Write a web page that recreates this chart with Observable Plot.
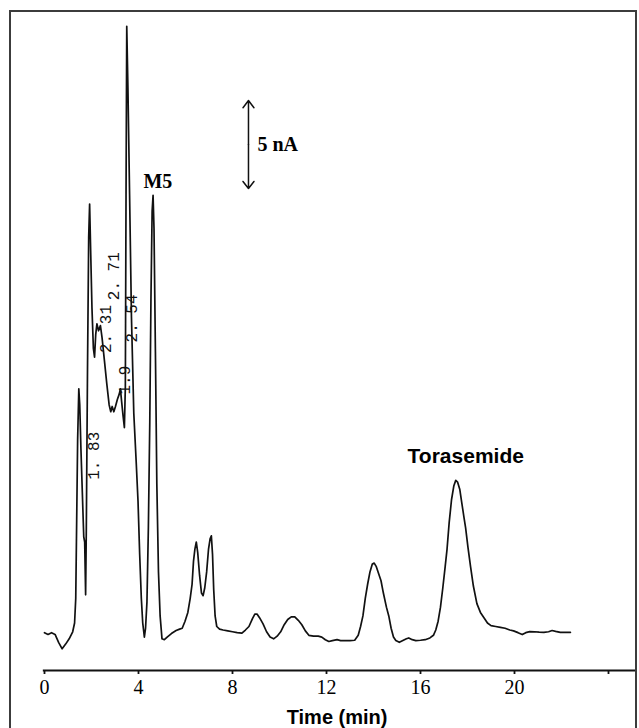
<!DOCTYPE html>
<html>
<head>
<meta charset="utf-8">
<script src="https://cdn.jsdelivr.net/npm/d3@7"></script>
<script src="https://cdn.jsdelivr.net/npm/@observablehq/plot@0.6"></script>
<style>
  html, body { margin: 0; padding: 0; background: #fff; }
  #wrap { position: relative; width: 639px; height: 728px; overflow: hidden; }
  #wrap svg { position: absolute; left: 0; top: 0; }
  #border { position: absolute; left: 9px; top: 10px; width: 624px; height: 730px;
            border: 2px solid #3c3c3c; border-bottom: none; pointer-events: none; }
</style>
</head>
<body>
<div id="wrap"><div id="border"></div></div>
<script>
// Chromatogram trace: time (min) and detector current (nA above baseline)
const time = [0.00,0.15,0.30,0.45,0.60,0.75,0.90,1.05,1.20,1.28,1.33,1.37,1.41,1.46,1.50,1.55,1.61,1.67,1.71,1.75,1.78,1.83,1.88,1.92,1.96,2.02,2.08,2.13,2.18,2.23,2.30,2.38,2.45,2.55,2.65,2.75,2.82,2.88,2.95,3.02,3.10,3.18,3.23,3.28,3.34,3.40,3.44,3.47,3.50,3.55,3.62,3.70,3.80,3.90,3.98,4.05,4.12,4.18,4.25,4.30,4.36,4.42,4.48,4.53,4.58,4.62,4.66,4.72,4.78,4.85,4.92,5.00,5.10,5.22,5.40,5.60,5.75,5.86,5.98,6.10,6.20,6.28,6.34,6.40,6.46,6.52,6.60,6.68,6.75,6.82,6.90,6.98,7.05,7.10,7.15,7.20,7.26,7.33,7.45,7.60,7.80,8.00,8.20,8.40,8.55,8.70,8.85,8.95,9.05,9.15,9.30,9.45,9.60,9.75,9.90,10.05,10.20,10.35,10.50,10.65,10.80,10.95,11.10,11.25,11.45,11.65,11.80,11.95,12.10,12.25,12.45,12.60,12.80,13.00,13.20,13.35,13.45,13.55,13.65,13.75,13.85,13.95,14.03,14.12,14.22,14.32,14.42,14.55,14.65,14.75,14.85,14.95,15.10,15.25,15.40,15.50,15.65,15.80,16.00,16.20,16.40,16.55,16.65,16.75,16.85,16.95,17.05,17.13,17.22,17.32,17.42,17.50,17.58,17.67,17.76,17.85,17.92,18.02,18.13,18.25,18.40,18.55,18.70,18.85,19.00,19.20,19.40,19.60,19.80,19.96,20.15,20.33,20.48,20.65,20.85,21.05,21.25,21.45,21.60,21.75,21.95,22.15,22.38];
const current = [0.05,-0.05,0.05,-0.05,-0.5,-0.87,-0.6,-0.3,0.1,0.6,2.0,6.5,11.0,13.9,13.0,10.5,8.0,5.5,5.2,2.2,6.0,15.0,22.5,24.4,22.0,18.5,16.2,15.7,17.0,17.6,17.2,17.5,16.8,15.5,14.2,13.0,12.6,12.9,12.6,12.9,13.3,13.6,13.9,13.2,12.4,11.7,14.0,25.0,34.5,31.0,25.0,18.0,12.5,9.8,7.5,4.5,2.0,0.6,-0.2,0.3,1.8,6.0,12.0,19.0,24.0,24.9,23.0,16.0,8.5,3.5,1.0,-0.3,-0.35,-0.2,0.0,0.17,0.25,0.3,0.7,1.2,2.0,2.8,4.1,4.8,5.2,4.6,3.3,2.3,2.15,2.6,3.5,4.8,5.4,5.55,4.5,2.5,1.0,0.4,0.25,0.2,0.15,0.1,0.05,0.02,0.2,0.4,0.85,1.1,1.1,0.9,0.55,0.1,-0.2,-0.3,-0.15,0.1,0.5,0.8,0.95,0.95,0.75,0.5,0.15,-0.1,-0.15,-0.15,-0.2,-0.35,-0.45,-0.4,-0.35,-0.4,-0.4,-0.4,-0.38,-0.1,0.4,1.0,2.0,2.8,3.5,3.95,4.0,3.8,3.4,3.0,2.3,1.5,1.0,0.3,-0.2,-0.4,-0.5,-0.4,-0.3,-0.25,-0.35,-0.4,-0.38,-0.35,-0.25,-0.1,0.2,0.7,1.5,2.6,3.8,4.8,6.3,7.6,8.4,8.7,8.6,8.2,7.4,6.6,6.0,4.9,3.8,2.7,1.7,1.2,0.9,0.6,0.45,0.4,0.35,0.3,0.2,0.15,0.05,-0.06,0.05,0.11,0.1,0.08,0.07,0.1,0.17,0.12,0.07,0.07,0.07];

// Axis ticks
const xTicks = [0, 4, 8, 12, 16, 20, 24];
const xTickLabels = ["0", "4", "8", "12", "16", "20", ""];
const xTitle = "Time (min)";

// Integrator retention-time prints (rotated)
const rtText = ["1. 83", "2. 31", "2. 71", "1.9", "2. 54"];
const rtX = [2.09, 2.6, 2.94, 3.4, 3.7];
const rtY = [10.1, 17.3, 20.3, 14.4, 17.9];

// Peak names
const peakText = ["M5", "Torasemide"];
const peakX = [4.21, 15.45];
const peakY = [25.7, 10.05];

// Scale bar: 5 nA
const barX = 8.68;
const barFrom = 25.28;
const barTo = 30.28;
const barText = "5 nA";

const trace = time.map((t, i) => ({t, c: current[i]}));
const rt = rtText.map((s, i) => ({s, x: rtX[i], y: rtY[i]}));
const axisY = -2.1;
const barMid = (barFrom + barTo) / 2;

const chart = Plot.plot({
  width: 639,
  height: 728,
  marginLeft: 44,
  marginRight: 31,
  marginTop: 8,
  marginBottom: 58,
  x: {domain: [0, 24], axis: null},
  y: {domain: [axisY, 35.51], axis: null},
  style: {background: "transparent", overflow: "visible"},
  marks: [
    Plot.ruleY([axisY], {x1: -0.05, x2: 25.15, stroke: "#111", strokeWidth: 2.2}),
    Plot.axisX({
      ticks: xTicks,
      tickSize: 4,
      tickPadding: 5,
      tickFormat: (d) => xTickLabels[xTicks.indexOf(d)],
      fontSize: 20,
      fontFamily: "Liberation Serif",
      stroke: "#111",
      strokeWidth: 1.8,
      fill: "#000",
      label: null
    }),
    Plot.text([xTitle], {x: 12.45, y: -4.77, text: (d) => d, fontSize: 20, fontWeight: "bold",
      fontFamily: "Liberation Sans", fill: "#000"}),
    Plot.line(trace, {x: "t", y: "c", stroke: "#111", strokeWidth: 1.7, curve: "linear"}),
    Plot.text(rt, {x: "x", y: "y", text: "s", rotate: -90, fontSize: 16,
      fontFamily: "Liberation Mono", fill: "#111"}),
    Plot.text(peakText.slice(0, 1), {x: peakX[0], y: peakY[0], text: (d) => d, textAnchor: "start",
      fontSize: 20, fontWeight: "bold", fontFamily: "Liberation Serif", fill: "#000"}),
    Plot.text(peakText.slice(1), {x: peakX[1], y: peakY[1], text: (d) => d, textAnchor: "start",
      fontSize: 21, fontWeight: "bold", fontFamily: "Liberation Sans", fill: "#000"}),
    Plot.arrow([0], {x1: barX, x2: barX, y1: barMid, y2: barTo, stroke: "#111", strokeWidth: 1.5,
      headLength: 9, headAngle: 75}),
    Plot.arrow([0], {x1: barX, x2: barX, y1: barMid, y2: barFrom, stroke: "#111", strokeWidth: 1.5,
      headLength: 9, headAngle: 75}),
    Plot.text([barText], {x: barX + 0.38, y: barMid, text: (d) => d, textAnchor: "start",
      fontSize: 20, fontWeight: "bold", fontFamily: "Liberation Serif", fill: "#000"})
  ]
});
document.getElementById("wrap").insertBefore(chart, document.getElementById("border"));
</script>
</body>
</html>
